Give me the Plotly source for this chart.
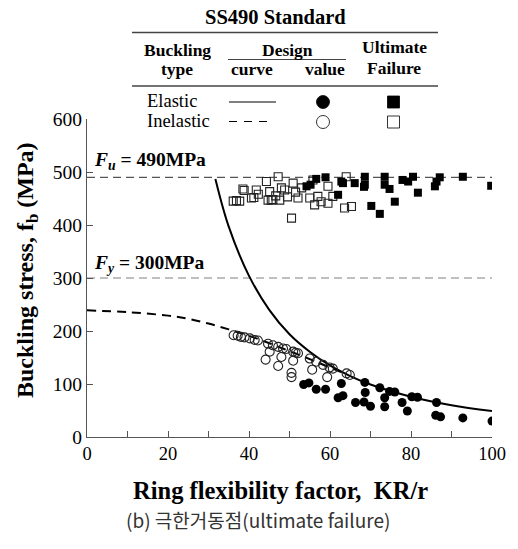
import plotly.graph_objects as go

# ---- data: ring flexibility factor KR/r vs buckling stress (MPa) ----
sq_open_x = [36.1, 36.9, 37.7, 38.5, 38.8, 40.6, 41.2, 41.8, 42.3, 44.3, 44.7, 45.1, 45.5, 45.9,
             46.6, 47.2, 47.6, 48.0, 48.8, 49.5, 50.5, 50.9, 51.5, 52.1, 53.0, 55.0, 55.8, 56.2,
             57.0, 57.8, 59.5, 59.5, 60.7, 63.6, 64.0, 65.3]
sq_open_y = [445, 446, 445, 468, 465, 451, 452, 466, 458, 482, 447, 463, 447, 448,
             455, 491, 447, 470, 466, 453, 413, 479, 462, 451, 470, 451, 485, 438,
             454, 444, 441, 473, 454, 432, 491, 435]

sq_fill_x = [54.2, 55.2, 56.6, 58.9, 62.0, 62.8, 63.2, 66.1, 68.6, 68.6, 68.4, 70.2, 72.3,
             73.5, 73.5, 74.7, 76.0, 77.9, 79.3, 80.5, 81.7, 85.9, 86.3, 87.1, 92.8, 99.8]
sq_fill_y = [473, 476, 487, 490, 457, 482, 479, 479, 491, 476, 472, 436, 421,
             491, 476, 468, 444, 485, 482, 491, 461, 473, 482, 490, 491, 474]

c_open_x = [36.2, 37.2, 38.0, 38.9, 40.2, 41.4, 42.2, 44.7, 45.9, 47.2, 48.4, 49.2, 50.9, 51.5,
            52.1, 55.0, 56.6, 58.3, 59.9, 60.7, 64.1, 64.9, 45.1, 44.1, 48.0, 47.2, 50.9, 50.5,
            50.5, 55.6, 59.3]
c_open_y = [192, 191, 189, 188, 186, 183, 182, 176, 173, 170, 167, 166, 161, 159,
            158, 148, 142, 136, 131, 129, 120, 117, 161, 146, 151, 134, 144, 121,
            113, 127, 113]

c_fill_x = [53.5, 54.8, 56.6, 58.9, 62.0, 63.2, 62.8, 66.3, 68.6, 68.7, 68.4, 70.0, 72.3,
            73.5, 73.5, 74.7, 76.0, 77.8, 79.1, 80.2, 81.6, 86.3, 86.1, 87.3, 92.8, 100.0]
c_fill_y = [99, 102, 90, 90, 74, 78, 101, 65, 103, 84, 66, 58, 93,
            74, 57, 86, 85, 65, 49, 76, 75, 65, 41, 38, 36, 30]

# design curves
elastic_x = [31.7, 35, 40, 45, 50, 55, 60, 65, 70, 80, 90, 100]
elastic_y = [487, 397, 304, 240, 194, 161, 135, 115, 99, 76, 60, 49]
inelastic_x = [0, 10, 20, 25, 30, 35, 40, 45, 50, 55, 60, 63.6]
inelastic_y = [239, 235.5, 229, 223, 214, 203, 191, 177, 162, 147, 131, 120]

# reference stresses
fu = 490
fy = 300
x_span = [0, 100]

x_ticks = [0, 20, 40, 60, 80, 100]
y_ticks = [0, 100, 200, 300, 400, 500, 600]

# ---- figure geometry ----
W, H = 518, 549
ML, MR, MT, MB = 87, 26, 119, 112
PW, PH = W - ML - MR, H - MT - MB


def px(x):
    return (x - ML) / PW


def py(y):
    return (H - MB - y) / PH


SERIF = "'Liberation Serif', 'Times New Roman', Times, 'DejaVu Serif', serif"
AX = "#555555"

fig = go.Figure()

fig.add_trace(go.Scatter(x=x_span, y=[fu, fu], mode="lines",
                         line=dict(color="#555555", width=1.3, dash="8px,5px"), hoverinfo="skip"))
fig.add_trace(go.Scatter(x=x_span, y=[fy, fy], mode="lines",
                         line=dict(color="#aaaaaa", width=1.3, dash="8px,5px"), hoverinfo="skip"))

fig.add_trace(go.Scatter(x=inelastic_x, y=inelastic_y, mode="lines",
                         line=dict(color="black", width=2, dash="9px,6px", shape="spline"),
                         name="Inelastic curve"))
fig.add_trace(go.Scatter(x=elastic_x, y=elastic_y, mode="lines",
                         line=dict(color="black", width=2, shape="spline"),
                         name="Elastic curve"))

fig.add_trace(go.Scatter(x=sq_open_x, y=sq_open_y, mode="markers",
                         marker=dict(symbol="square-open", size=8, color="#222222",
                                     line=dict(width=1.1))))
fig.add_trace(go.Scatter(x=sq_fill_x, y=sq_fill_y, mode="markers",
                         marker=dict(symbol="square", size=8, color="black")))
fig.add_trace(go.Scatter(x=c_open_x, y=c_open_y, mode="markers",
                         marker=dict(symbol="circle-open", size=9, color="#222222",
                                     line=dict(width=1.1))))
fig.add_trace(go.Scatter(x=c_fill_x, y=c_fill_y, mode="markers",
                         marker=dict(symbol="circle", size=9, color="black")))

anns = []


def txt(text, x, y, size, anchor="center", bold=False, italic=False, family=SERIF, color="black", angle=0):
    t = text
    if bold:
        t = "<b>" + t + "</b>"
    if italic:
        t = "<i>" + t + "</i>"
    anns.append(dict(text=t, x=px(x), y=py(y), xref="paper", yref="paper",
                     xanchor=anchor, yanchor="middle", showarrow=False, textangle=angle,
                     font=dict(family=family, size=size, color=color)))


# legend table
txt("SS490 Standard", 275, 17, 20.5, bold=True)
txt("Buckling", 177, 50, 17.5, bold=True)
txt("type", 177, 68.5, 17.5, bold=True)
txt("Design", 287, 50, 17.5, bold=True)
txt("curve", 252, 68.5, 17.5, bold=True)
txt("value", 325, 68.5, 17.5, bold=True)
txt("Ultimate", 394, 47, 17.5, bold=True)
txt("Failure", 394, 67.5, 17.5, bold=True)
txt("Elastic", 145, 101, 18.5, anchor="left")
txt("Inelastic", 145, 121, 18.5, anchor="left")

# stress level labels
txt("<i>F</i><sub><i>u</i></sub> = 490MPa", 92, 161, 19.5, anchor="left", bold=True)
txt("<i>F</i><sub><i>y</i></sub> = 300MPa", 92, 264, 19.5, anchor="left", bold=True)

# axis titles and caption
txt("Ring flexibility factor,&nbsp;&nbsp;KR/r", 280, 490, 24.5, bold=True)
txt("Buckling stress, f<sub>b</sub> (MPa)", 27, 270, 24, bold=True, angle=-90)
txt("(b) 극한거동점(ultimate failure)", 258, 519.5, 19, family="'Noto Sans CJK KR', sans-serif",
    color="#333333")

shapes = []


def hline(x0, x1, y, width=1.3, color="#444444", dash="solid"):
    shapes.append(dict(type="line", xref="paper", yref="paper", x0=px(x0), x1=px(x1),
                       y0=py(y), y1=py(y), line=dict(color=color, width=width, dash=dash)))


hline(132, 438, 32.5)
hline(228, 346, 59.5, width=1)
hline(132, 438, 86)
hline(229, 276, 102, width=1, color="black")
hline(229, 268, 121.5, width=1, color="black", dash="8px,7px")


def circ(cx, cy, d, fill):
    shapes.append(dict(type="circle", xref="paper", yref="paper",
                       x0=px(cx - d / 2), x1=px(cx + d / 2), y0=py(cy + d / 2), y1=py(cy - d / 2),
                       fillcolor="black" if fill else "rgba(0,0,0,0)",
                       line=dict(color="black", width=0.8)))


def rect(cx, cy, d, fill):
    shapes.append(dict(type="rect", xref="paper", yref="paper",
                       x0=px(cx - d / 2), x1=px(cx + d / 2), y0=py(cy + d / 2), y1=py(cy - d / 2),
                       fillcolor="black" if fill else "rgba(0,0,0,0)",
                       line=dict(color="black", width=0.8)))


circ(323, 102, 13, True)
circ(323, 122, 13, False)
rect(393.5, 102, 12, True)
rect(393.5, 122, 12, False)

fig.update_layout(
    width=W, height=H,
    margin=dict(l=ML, r=MR, t=MT, b=MB),
    paper_bgcolor="white", plot_bgcolor="white",
    showlegend=False,
    font=dict(family=SERIF),
    annotations=anns, shapes=shapes,
    xaxis=dict(range=[0, 100], tickvals=x_ticks, ticks="inside",
               ticklen=6, tickcolor=AX, showline=True, linecolor=AX, linewidth=1,
               showgrid=False, zeroline=False,
               minor=dict(tickvals=[10, 30, 50, 70, 90], ticks="inside", ticklen=6,
                          tickcolor=AX, showgrid=False),
               tickfont=dict(family=SERIF, size=18.5, color="black")),
    yaxis=dict(range=[0, 600], tickvals=y_ticks, ticks="inside", ticklen=6, tickcolor=AX,
               showline=True, linecolor=AX, linewidth=1, showgrid=False, zeroline=False,
               tickfont=dict(family=SERIF, size=19.5, color="black")),
)

fig.write_html("out.html")
